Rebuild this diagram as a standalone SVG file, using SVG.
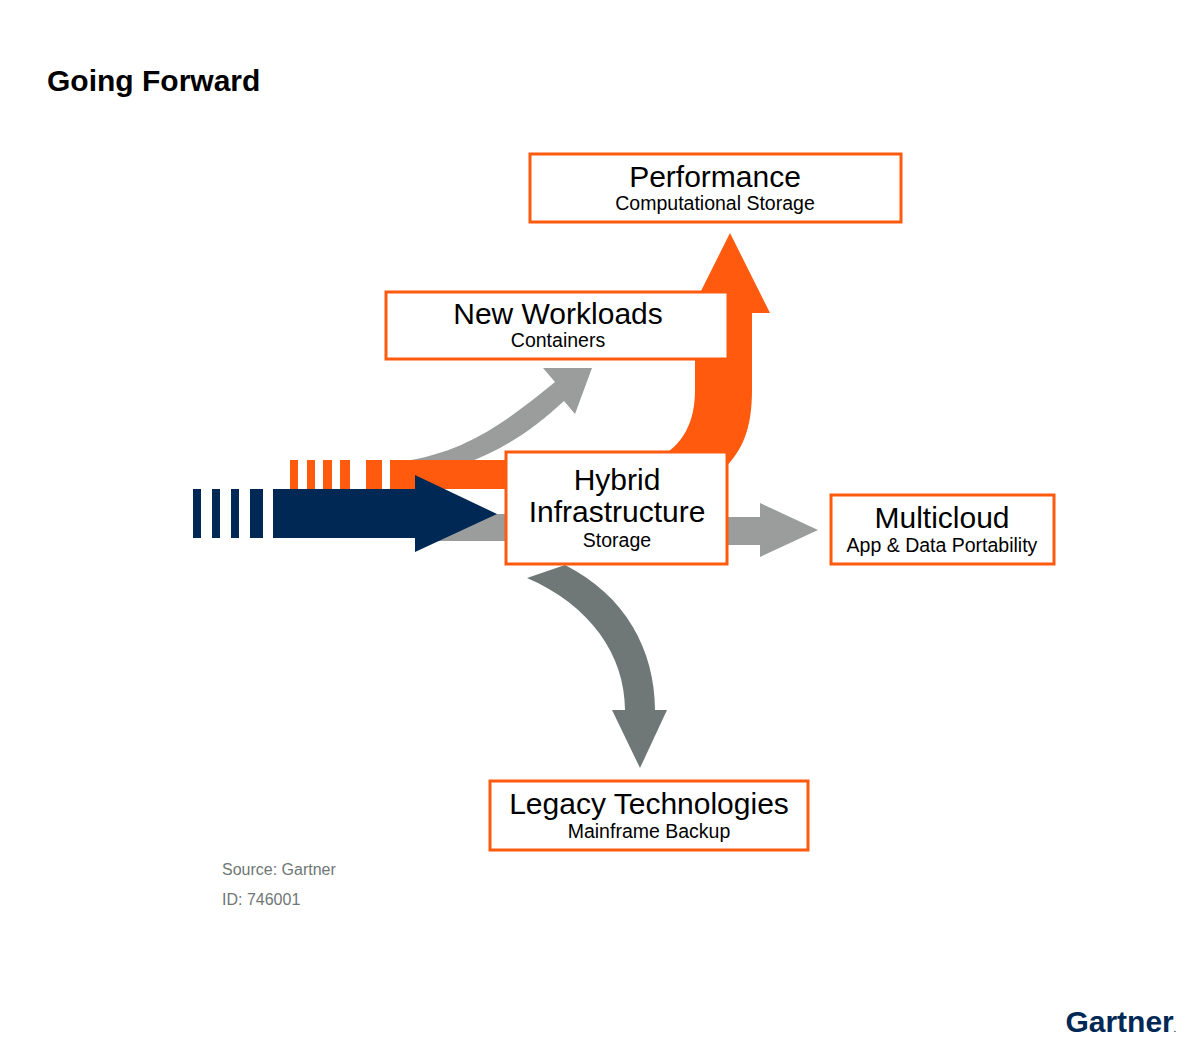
<svg xmlns="http://www.w3.org/2000/svg" width="1200" height="1045" viewBox="0 0 1200 1045">
<style>
.box{fill:#fff;stroke:#FF5A0E;stroke-width:3}
.t{font-family:"Liberation Sans",Arial,sans-serif;text-anchor:middle;fill:#000}
.big{font-size:30px}.small{font-size:19.5px}
.or{fill:#FF5A0E}.nv{fill:#002855}.gr{fill:#9A9D9C}.dg{fill:#707877}
</style>
<rect width="1200" height="1045" fill="#fff"/>
<text x="47" y="91" font-family="Liberation Sans,Arial,sans-serif" font-size="30" font-weight="bold">Going Forward</text>
<g id="connectors">
<path class="gr" d="M400,462 C470,452 510,418 555,382 L543,368 L592,368 L575,414 L564,401 C520,442 470,470 420,472 Z"/>
<g class="or"><rect x="290" y="460" width="8" height="29"/><rect x="307" y="460" width="8" height="29"/><rect x="323" y="460" width="9" height="29"/><rect x="340" y="460" width="10" height="29"/><rect x="366" y="460" width="16" height="29"/></g>
<path class="or" d="M390,460 L655,460 C685,445 695,420 695,390 L695,313 L690,313 L730,233 L770,313 L752,313 L752,390 C752,430 742,450 725,468 L725,489 L390,489 Z"/>
<rect class="gr" x="430" y="514" width="80" height="27"/>
<path class="gr" d="M727,517 L760,517 L760,503 L818,530 L760,557 L760,545 L727,545 Z"/>
<g class="nv"><rect x="193" y="489" width="8" height="49"/><rect x="212" y="489" width="8" height="49"/><rect x="231" y="489" width="8" height="49"/><rect x="250" y="489" width="13" height="49"/></g>
<path class="nv" d="M273,489 L415,489 L415,475 L497,514 L415,552 L415,538 L273,538 Z"/>
<path class="dg" d="M527,578 L565,565 C625,595 655,650 655,710 L667,710 L640,768 L612,710 L625,710 C625,655 590,605 527,578 Z"/>
</g>
<g id="performance"><rect class="box" x="530" y="154" width="371" height="68"/><text class="t big" x="715" y="187">Performance</text><text class="t small" x="715" y="210">Computational Storage</text></g>
<g id="newworkloads"><rect class="box" x="386" y="292" width="342" height="67"/><text class="t big" x="558" y="324">New Workloads</text><text class="t small" x="558" y="347">Containers</text></g>
<g id="hybrid"><rect class="box" x="506" y="452" width="221" height="112"/><text class="t big" x="617" y="490">Hybrid</text><text class="t big" x="617" y="522">Infrastructure</text><text class="t small" x="617" y="547">Storage</text></g>
<g id="multicloud"><rect class="box" x="831" y="495" width="223" height="69"/><text class="t big" x="942" y="528">Multicloud</text><text class="t small" x="942" y="552">App &amp; Data Portability</text></g>
<g id="legacy"><rect class="box" x="490" y="781" width="318" height="69"/><text class="t big" x="649" y="814">Legacy Technologies</text><text class="t small" x="649" y="838">Mainframe Backup</text></g>
<text x="222" y="875" font-family="Liberation Sans,Arial,sans-serif" font-size="16" fill="#6F7775">Source: Gartner</text>
<text x="222" y="905" font-family="Liberation Sans,Arial,sans-serif" font-size="16" fill="#6F7775">ID: 746001</text>
<text x="1176" y="1032" text-anchor="end" font-family="Liberation Sans,Arial,sans-serif" font-size="30" font-weight="bold" fill="#002855">Gartner<tspan font-size="8">.</tspan></text>
</svg>
